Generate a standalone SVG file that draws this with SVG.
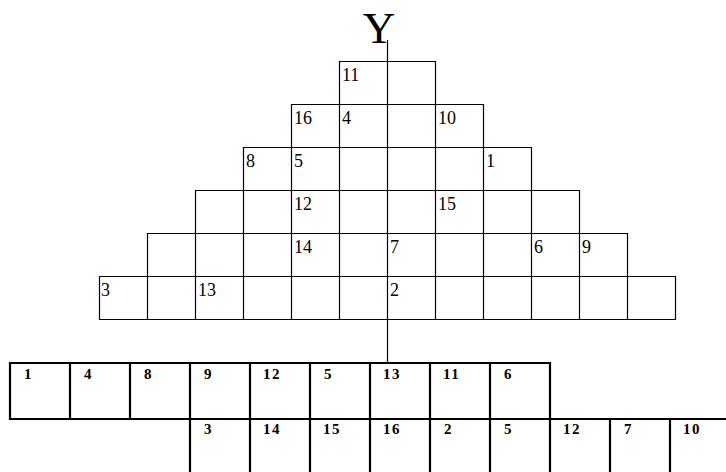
<svg xmlns="http://www.w3.org/2000/svg" width="726" height="472" viewBox="0 0 726 472">
<style>
.c{fill:none;stroke:#000;stroke-width:1.2}
.b{fill:none;stroke:#000;stroke-width:2.2}
.t{font-family:"Liberation Serif",serif;font-size:18px;fill:#000}
.tb{font-family:"Liberation Serif",serif;font-size:15px;font-weight:bold;fill:#000;letter-spacing:1.5px}
.y{font-family:"Liberation Serif",serif;font-size:45px;fill:#000}
</style>
<rect width="726" height="472" fill="#fff"/>
<g id="pyramid">
<path class="c" d="M339.5 61.5H435.5V104.5H339.5Z M291.5 104.5H483.5V147.5H291.5Z M243.5 147.5H531.5V190.5H243.5Z M195.5 190.5H579.5V233.5H195.5Z M147.5 233.5H627.5V276.5H147.5Z M99.5 276.5H675.5V319.5H99.5Z"/>
<path class="c" d="M147.5 276.5V319.5 M195.5 233.5V319.5 M243.5 190.5V319.5 M291.5 147.5V319.5 M339.5 104.5V319.5 M435.5 104.5V319.5 M483.5 147.5V319.5 M531.5 190.5V319.5 M579.5 233.5V319.5 M627.5 276.5V319.5"/>
<text class="t" x="342" y="81">11</text>
<text class="t" x="294" y="124">16</text>
<text class="t" x="342" y="124">4</text>
<text class="t" x="438" y="124">10</text>
<text class="t" x="246" y="167">8</text>
<text class="t" x="294" y="167">5</text>
<text class="t" x="486" y="167">1</text>
<text class="t" x="294" y="210">12</text>
<text class="t" x="438" y="210">15</text>
<text class="t" x="294" y="253">14</text>
<text class="t" x="390" y="253">7</text>
<text class="t" x="534" y="253">6</text>
<text class="t" x="582" y="253">9</text>
<text class="t" x="101" y="296">3</text>
<text class="t" x="198" y="296">13</text>
<text class="t" x="390" y="296">2</text>
</g>
<g id="axis">
<line class="c" x1="387.5" y1="40" x2="387.5" y2="363"/>
<text class="y" x="379" y="43" text-anchor="middle">Y</text>
</g>
<g id="table1">
<path class="b" d="M10 363H550V419H10Z M70 363V419 M130 363V419 M190 363V419 M250 363V419 M310 363V419 M370 363V419 M430 363V419 M490 363V419"/>
<text class="tb" x="24" y="379">1</text>
<text class="tb" x="84" y="379">4</text>
<text class="tb" x="144" y="379">8</text>
<text class="tb" x="204" y="379">9</text>
<text class="tb" x="263" y="379">12</text>
<text class="tb" x="324" y="379">5</text>
<text class="tb" x="383" y="379">13</text>
<text class="tb" x="443" y="379">11</text>
<text class="tb" x="504" y="379">6</text>
</g>
<g id="table2">
<path class="b" d="M10 419H726 M190 419V472 M250 419V472 M310 419V472 M370 419V472 M430 419V472 M490 419V472 M550 419V472 M610 419V472 M670 419V472"/>
<text class="tb" x="204" y="434">3</text>
<text class="tb" x="263" y="434">14</text>
<text class="tb" x="323" y="434">15</text>
<text class="tb" x="383" y="434">16</text>
<text class="tb" x="444" y="434">2</text>
<text class="tb" x="504" y="434">5</text>
<text class="tb" x="563" y="434">12</text>
<text class="tb" x="624" y="434">7</text>
<text class="tb" x="683" y="434">10</text>
</g>
</svg>
